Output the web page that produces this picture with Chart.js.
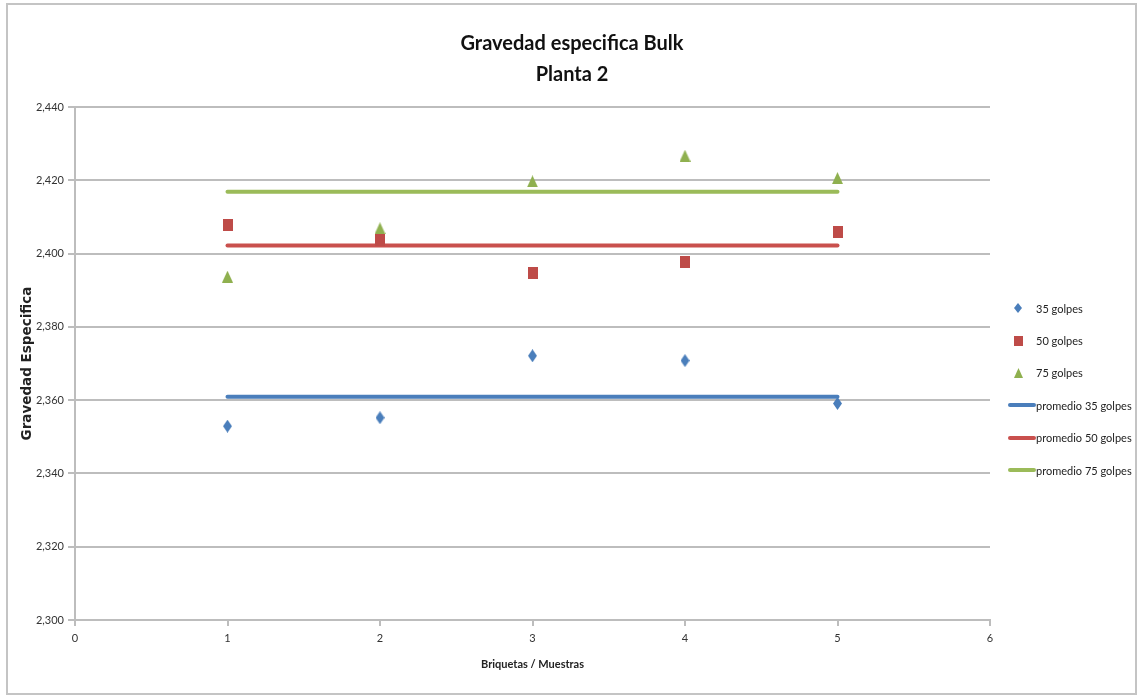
<!DOCTYPE html>
<html>
<head>
<meta charset="utf-8">
<script src="https://cdn.jsdelivr.net/npm/chart.js@4.4.0/dist/chart.umd.min.js"></script>
<style>
    body { margin: 0; background: #fff; }
    #contenedor { position: relative; width: 1144px; height: 700px; }
    #marco { position: absolute; left: 6px; top: 3px; width: 1131px; height: 692px; border: 2px solid #c4c4c4; box-sizing: border-box; }
    #titulo { position: absolute; left: 0; top: 27px; width: 1144px; text-align: center;
        font-family: Lato, sans-serif; font-size: 20px; font-weight: bold; line-height: 31px; color: #111; }
    #leyenda { position: absolute; left: 1004px; top: 292px; margin: 0; padding: 0; list-style: none;
        font-family: Lato, "Open Sans", sans-serif; font-size: 11px; color: #222; }
    #leyenda li { height: 32.4px; display: flex; align-items: center; white-space: nowrap; }
    #leyenda .caja { width: 32px; display: flex; align-items: center; }
    #leyenda .linea { width: 28px; height: 4px; border-radius: 2px; margin-left: 4px; }
</style>
</head>
<body>
<div id="contenedor">
    <canvas id="graficoBulk" width="1144" height="700"></canvas>
    <div id="marco"></div>
    <div id="titulo">Gravedad especifica Bulk<br>Planta 2</div>
    <ul id="leyenda"></ul>
</div>
<script>
// datos
const muestras = [1, 2, 3, 4, 5];
const golpes35 = [2.3529, 2.3552, 2.3721, 2.3708, 2.3591];
const golpes50 = [2.4077, 2.4037, 2.3948, 2.3977, 2.4060];
const golpes75 = [2.3937, 2.4069, 2.4197, 2.4267, 2.4206];
const promedio35 = [2.3609, 2.3609, 2.3609, 2.3609, 2.3609];
const promedio50 = [2.4022, 2.4022, 2.4022, 2.4022, 2.4022];
const promedio75 = [2.4169, 2.4169, 2.4169, 2.4169, 2.4169];
const etiquetasY = [2.300, 2.320, 2.340, 2.360, 2.380, 2.400, 2.420, 2.440];

const azul = '#4a7ebb';
const rojo = '#be4b48';
const verde = '#8fb04f';

// dibuja un marcador pequeño para usar como pointStyle
function marcador(forma, color, w, h) {
    const c = document.createElement('canvas');
    c.width = w;
    c.height = h;
    const g = c.getContext('2d');
    g.fillStyle = color;
    g.beginPath();
    if (forma === 'diamante') {
        g.moveTo(w / 2, 0); g.lineTo(w, h / 2); g.lineTo(w / 2, h); g.lineTo(0, h / 2);
    } else if (forma === 'triangulo') {
        g.moveTo(w / 2, 0); g.lineTo(w, h); g.lineTo(0, h);
    } else {
        g.rect(0, 0, w, h);
    }
    g.closePath();
    g.fill();
    return c;
}

function puntos(valores) {
    return valores.map(function (v, i) { return { x: muestras[i], y: v }; });
}

const dados = {
    datasets: [{
        label: '35 golpes',
        data: puntos(golpes35),
        pointStyle: marcador('diamante', azul, 9, 13),
        iconoLeyenda: marcador('diamante', azul, 8, 10),
        backgroundColor: azul,
        showLine: false
    },
    {
        label: '50 golpes',
        data: puntos(golpes50),
        pointStyle: marcador('cuadro', rojo, 10, 12),
        iconoLeyenda: marcador('cuadro', rojo, 9, 10),
        backgroundColor: rojo,
        showLine: false
    },
    {
        label: '75 golpes',
        data: puntos(golpes75),
        pointStyle: marcador('triangulo', verde, 11, 12),
        iconoLeyenda: marcador('triangulo', verde, 9, 10),
        backgroundColor: verde,
        showLine: false
    },
    {
        label: 'promedio 35 golpes',
        data: puntos(promedio35),
        borderColor: azul,
        borderWidth: 4,
        pointRadius: 0,
        showLine: true,
        borderCapStyle: 'round'
    },
    {
        label: 'promedio 50 golpes',
        data: puntos(promedio50),
        borderColor: '#c9504d',
        borderWidth: 4,
        pointRadius: 0,
        showLine: true,
        borderCapStyle: 'round'
    },
    {
        label: 'promedio 75 golpes',
        data: puntos(promedio75),
        borderColor: '#9bbb59',
        borderWidth: 4,
        pointRadius: 0,
        showLine: true,
        borderCapStyle: 'round'
    }]
};

const config = {
    type: 'scatter',
    data: dados,
    options: {
        responsive: false,
        animation: false,
        layout: { padding: { left: 15, right: 154, top: 107, bottom: 25 } },
        plugins: {
            legend: { display: false },
            tooltip: { enabled: false }
        },
        scales: {
            x: {
                type: 'linear',
                min: 0,
                max: 6,
                afterFit: function (s) { s.height = 55; },
                ticks: {
                    stepSize: 1,
                    color: '#333',
                    font: { family: 'Lato', size: 11 },
                    padding: 6
                },
                grid: { drawOnChartArea: false, color: '#bdbdbd', lineWidth: 2, tickLength: 6 },
                border: { color: '#bdbdbd', width: 2 },
                title: {
                    display: true,
                    text: 'Briquetas / Muestras',
                    color: '#222',
                    font: { family: 'Lato', size: 11, weight: 'bold' },
                    padding: { top: 4, bottom: 4 }
                }
            },
            y: {
                min: 2.300,
                max: 2.440,
                afterFit: function (s) { s.width = 60; },
                afterBuildTicks: function (s) { s.ticks = etiquetasY.map(function (v) { return { value: v }; }); },
                ticks: {
                    color: '#333',
                    font: { family: 'Lato', size: 11 },
                    padding: 4,
                    callback: function (v) { return v.toFixed(3).replace('.', ','); }
                },
                grid: { color: '#bdbdbd', lineWidth: 2, tickLength: 7 },
                border: { color: '#bdbdbd', width: 2 },
                title: {
                    display: true,
                    text: 'Gravedad Especifica',
                    color: '#222',
                    font: { family: 'DejaVu Sans', size: 13.5, weight: 'bold' },
                    padding: { top: 4, bottom: 4 }
                }
            }
        }
    }
};

const miGrafico = new Chart(document.getElementById('graficoBulk'), config);

// leyenda a la derecha, hecha a partir de los datasets
const leyenda = document.getElementById('leyenda');
dados.datasets.forEach(function (ds) {
    const li = document.createElement('li');
    const caja = document.createElement('span');
    caja.className = 'caja';
    if (ds.showLine) {
        const linea = document.createElement('span');
        linea.className = 'linea';
        linea.style.background = ds.borderColor;
        caja.appendChild(linea);
    } else {
        const img = ds.iconoLeyenda;
        img.style.marginLeft = (14 - img.width / 2) + 'px';
        caja.appendChild(img);
    }
    li.appendChild(caja);
    li.appendChild(document.createTextNode(ds.label));
    leyenda.appendChild(li);
});
</script>
</body>
</html>
